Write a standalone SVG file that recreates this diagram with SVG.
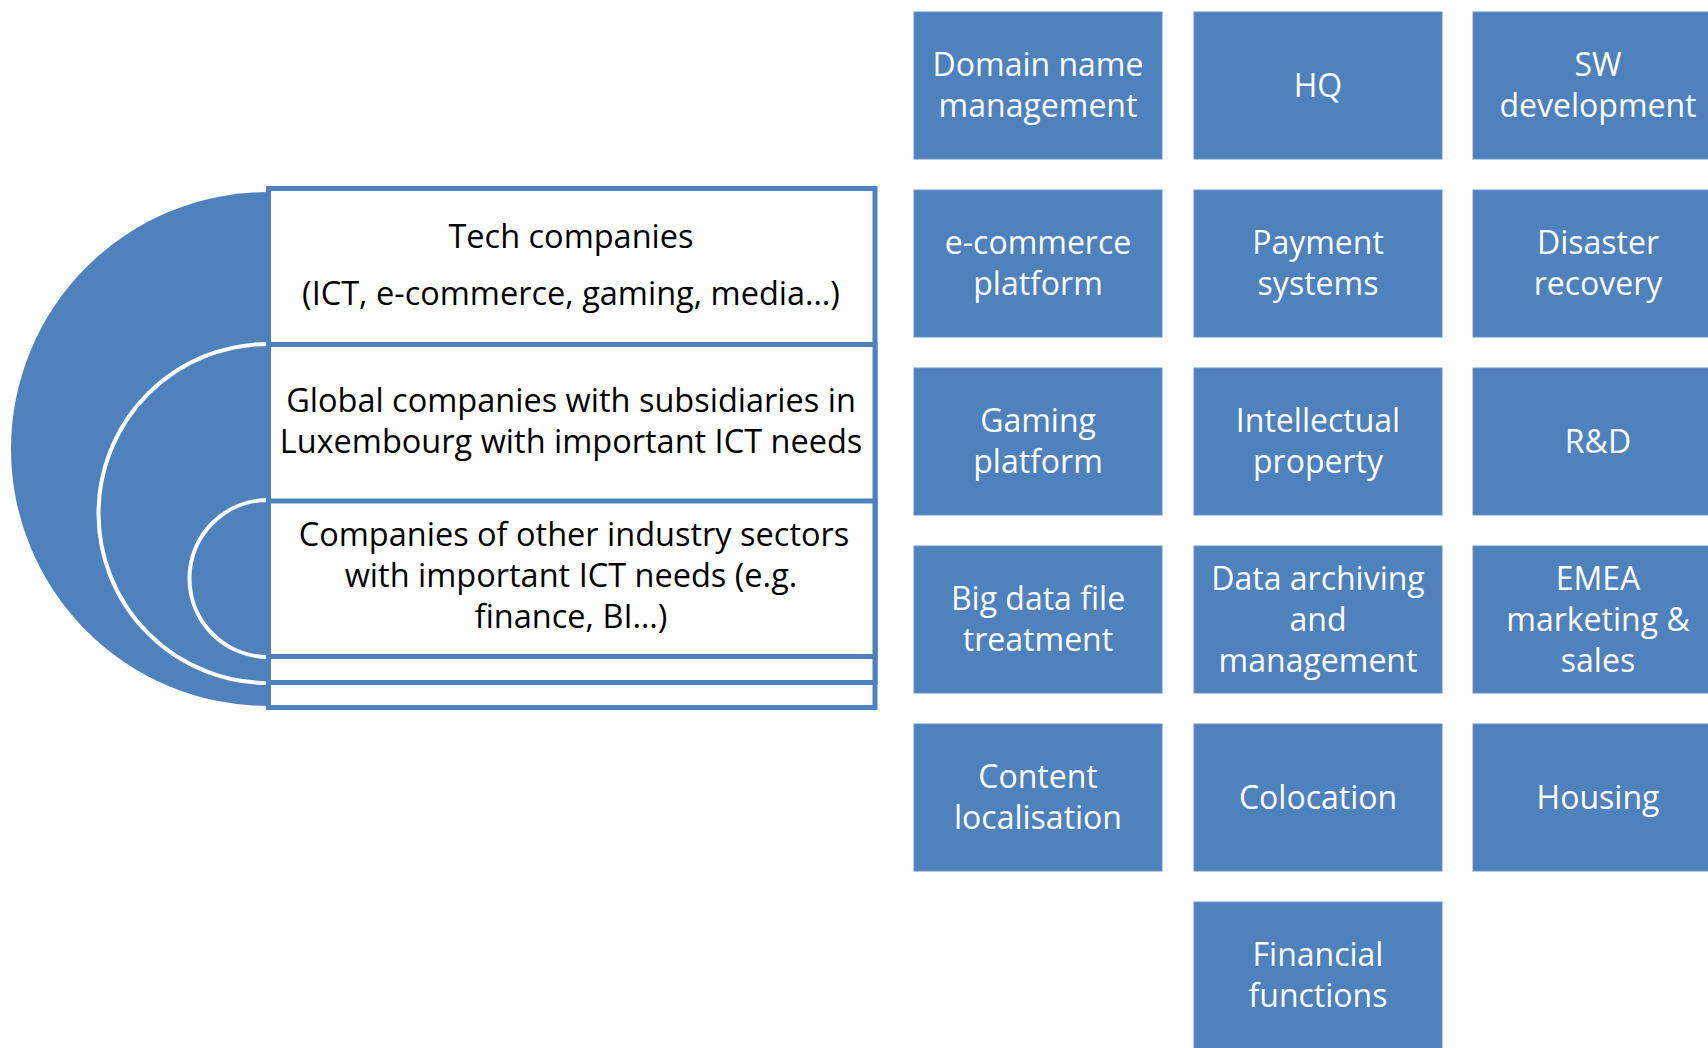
<svg xmlns="http://www.w3.org/2000/svg" width="1708" height="1048" viewBox="0 0 1708 1048">
<style>
.box{fill:#4F81BD;stroke:#6A93C8;stroke-width:1}
.bt{font-family:"Open Sans","Liberation Sans",sans-serif;font-size:32px;fill:#FFFFFF;text-anchor:middle}
.lt{font-family:"Open Sans","Liberation Sans",sans-serif;font-size:32.5px;fill:#000000;text-anchor:middle}
.lvl{fill:#FFFFFF;stroke:#4F81BD;stroke-width:5}
.arc{fill:#4F81BD;stroke:#FFFFFF;stroke-width:4}
</style>
<rect width="1708" height="1048" fill="#FFFFFF"/>
<g id="target">
  <path d="M268 192 A257 257 0 0 0 268 706 Z" fill="#4F81BD"/>
  <path class="arc" d="M268 344 A169.5 169.5 0 0 0 268 683 Z"/>
  <path class="arc" d="M268 500 A78.5 78.5 0 0 0 268 657 Z"/>
</g>
<g id="level1">
  <rect class="lvl" x="268.5" y="188.5" width="606.5" height="519"/>
  <text class="lt" x="571" y="248">Tech companies</text>
  <text class="lt" x="571" y="305">(ICT, e-commerce, gaming, media…)</text>
</g>
<g id="level2">
  <rect class="lvl" x="268.5" y="344.5" width="606.5" height="338"/>
  <text class="lt" x="571" y="412">Global companies with subsidiaries in</text>
  <text class="lt" x="571" y="453">Luxembourg with important ICT needs</text>
</g>
<g id="level3">
  <rect class="lvl" x="268.5" y="501" width="606.5" height="155.5"/>
  <text class="lt" x="574" y="546">Companies of other industry sectors</text>
  <text class="lt" x="571" y="587">with important ICT needs (e.g.</text>
  <text class="lt" x="571" y="628">finance, BI…)</text>
</g>
<g id="domain-name-management">
  <rect class="box" x="914" y="12" width="248" height="147"/>
  <text class="bt" x="1038" y="76">Domain name</text>
  <text class="bt" x="1038" y="117">management</text>
</g>
<g id="hq">
  <rect class="box" x="1194" y="12" width="248" height="147"/>
  <text class="bt" x="1318" y="97">HQ</text>
</g>
<g id="sw-development">
  <rect class="box" x="1473" y="12" width="250" height="147"/>
  <text class="bt" x="1598" y="76">SW</text>
  <text class="bt" x="1598" y="117">development</text>
</g>
<g id="e-commerce-platform">
  <rect class="box" x="914" y="190" width="248" height="147"/>
  <text class="bt" x="1038" y="254">e-commerce</text>
  <text class="bt" x="1038" y="295">platform</text>
</g>
<g id="payment-systems">
  <rect class="box" x="1194" y="190" width="248" height="147"/>
  <text class="bt" x="1318" y="254">Payment</text>
  <text class="bt" x="1318" y="295">systems</text>
</g>
<g id="disaster-recovery">
  <rect class="box" x="1473" y="190" width="250" height="147"/>
  <text class="bt" x="1598" y="254">Disaster</text>
  <text class="bt" x="1598" y="295">recovery</text>
</g>
<g id="gaming-platform">
  <rect class="box" x="914" y="368" width="248" height="147"/>
  <text class="bt" x="1038" y="432">Gaming</text>
  <text class="bt" x="1038" y="473">platform</text>
</g>
<g id="intellectual-property">
  <rect class="box" x="1194" y="368" width="248" height="147"/>
  <text class="bt" x="1318" y="432">Intellectual</text>
  <text class="bt" x="1318" y="473">property</text>
</g>
<g id="r-and-d">
  <rect class="box" x="1473" y="368" width="250" height="147"/>
  <text class="bt" x="1598" y="452.5">R&amp;D</text>
</g>
<g id="big-data-file-treatment">
  <rect class="box" x="914" y="546" width="248" height="147"/>
  <text class="bt" x="1038" y="610">Big data file</text>
  <text class="bt" x="1038" y="651">treatment</text>
</g>
<g id="data-archiving">
  <rect class="box" x="1194" y="546" width="248" height="147"/>
  <text class="bt" x="1318" y="590">Data archiving</text>
  <text class="bt" x="1318" y="631">and</text>
  <text class="bt" x="1318" y="672">management</text>
</g>
<g id="emea-marketing-sales">
  <rect class="box" x="1473" y="546" width="250" height="147"/>
  <text class="bt" x="1598" y="590">EMEA</text>
  <text class="bt" x="1598" y="631">marketing &amp;</text>
  <text class="bt" x="1598" y="672">sales</text>
</g>
<g id="content-localisation">
  <rect class="box" x="914" y="724" width="248" height="147"/>
  <text class="bt" x="1038" y="788">Content</text>
  <text class="bt" x="1038" y="829">localisation</text>
</g>
<g id="colocation">
  <rect class="box" x="1194" y="724" width="248" height="147"/>
  <text class="bt" x="1318" y="808.5">Colocation</text>
</g>
<g id="housing">
  <rect class="box" x="1473" y="724" width="250" height="147"/>
  <text class="bt" x="1598" y="808.5">Housing</text>
</g>
<g id="financial-functions">
  <rect class="box" x="1194" y="902" width="248" height="152"/>
  <text class="bt" x="1318" y="966">Financial</text>
  <text class="bt" x="1318" y="1007">functions</text>
</g>
<g id="connectors"></g>
</svg>
